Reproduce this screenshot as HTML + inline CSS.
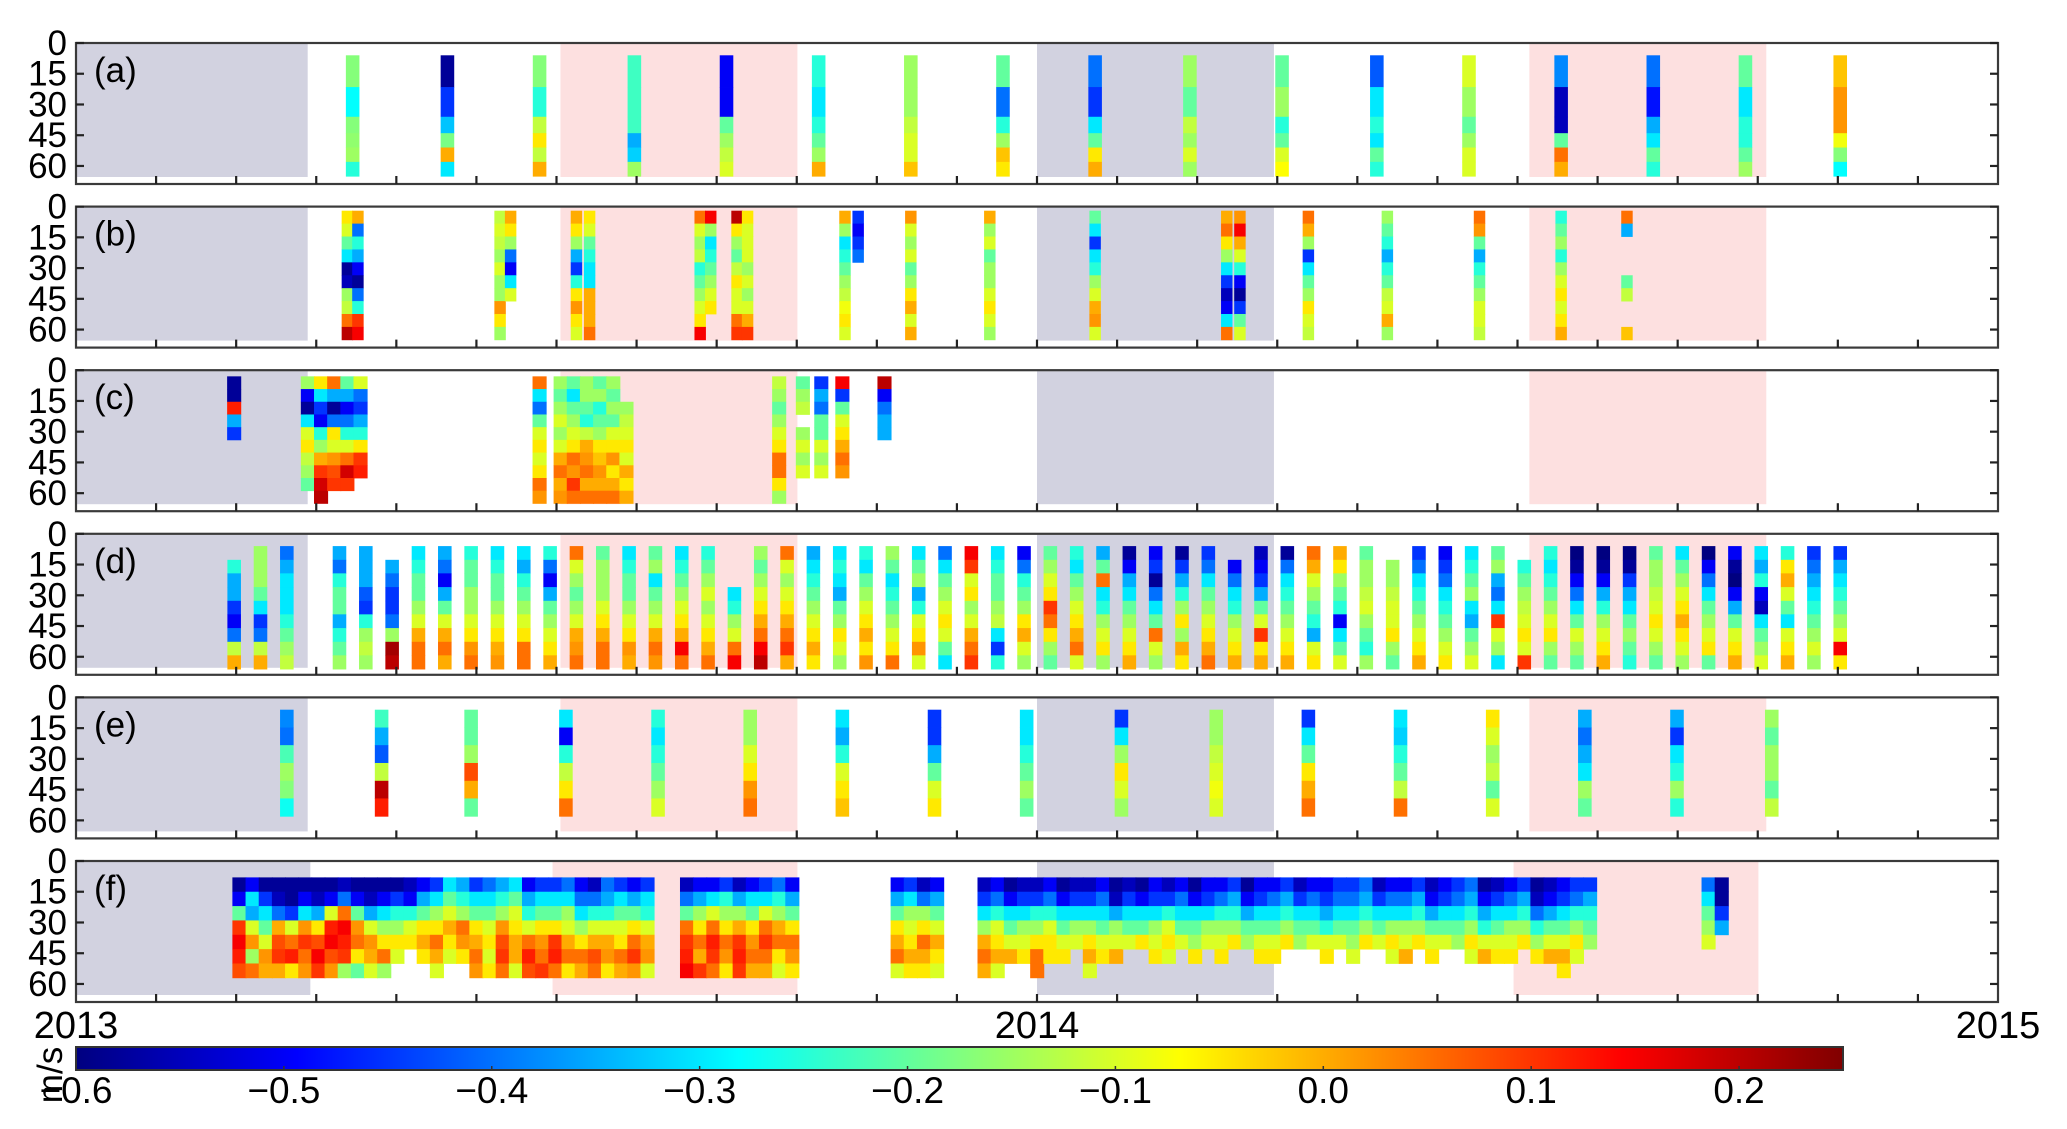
<!DOCTYPE html>
<html><head><meta charset="utf-8">
<style>
html,body{margin:0;padding:0;background:#fff;}
svg{display:block;font-family:"Liberation Sans","DejaVu Sans",sans-serif;}
</style></head>
<body>
<svg id="chart" width="2067" height="1129" viewBox="0 0 2067 1129" xmlns="http://www.w3.org/2000/svg"></svg>
<script>
// ---------- data ----------
const panelLabels = ["(a)","(b)","(c)","(d)","(e)","(f)"];
const depthTicks = [0,15,30,45,60];
const yearLabels = ["2013","2014","2015"];
const yearDays = [0,365,730];
const cbarTicks = [-0.6,-0.5,-0.4,-0.3,-0.2,-0.1,0.0,0.1,0.2];
const seasonGrey = [[0,88],[365,455]];
const seasonPink = [[184,274],[552,642]];
const seasonGreyF = [[0,89],[365,455]];
const seasonPinkF = [[181,274],[546,639]];

const aEdges = [6,21.5,36,44,51,58,65];
const aDays = [105,141,176,212,247,282,317,352,387,423,458,494,529,564,599,634,670];
const aVals = [
[-0.17,-0.28,-0.17,-0.16,-0.15,-0.25],[-0.58,-0.45,-0.33,-0.18,0.0,-0.3],[-0.17,-0.25,-0.12,-0.05,-0.12,0.0],
[-0.23,-0.23,-0.23,-0.35,-0.32,-0.15],[-0.5,-0.5,-0.2,-0.15,-0.12,-0.1],[-0.25,-0.3,-0.25,-0.2,-0.15,0.0],
[-0.15,-0.15,-0.12,-0.1,-0.1,-0.02],[-0.2,-0.4,-0.25,-0.15,-0.02,-0.05],[-0.4,-0.45,-0.3,-0.2,-0.05,0.0],
[-0.15,-0.2,-0.12,-0.15,-0.1,-0.15],[-0.2,-0.15,-0.25,-0.2,-0.1,-0.07],[-0.42,-0.3,-0.25,-0.3,-0.2,-0.25],
[-0.1,-0.15,-0.2,-0.15,-0.1,-0.1],[-0.38,-0.55,-0.55,-0.2,0.05,0.0],[-0.4,-0.48,-0.35,-0.3,-0.2,-0.25],
[-0.2,-0.3,-0.25,-0.25,-0.2,-0.15],[-0.02,0.02,0.02,-0.08,-0.17,-0.28]];

const bEdges = [2,8.3,14.6,20.9,27.2,33.5,39.8,46.1,52.4,58.7,65];
const bDays = [103,107,161,165,190,195,237,241,251,255,292,297,317,347,387,437,442,468,498,533,564,589];
const bVals = [
[-0.05,-0.1,-0.2,-0.3,-0.58,-0.55,-0.15,-0.12,0.05,0.2],[0.0,-0.4,-0.25,-0.35,-0.5,-0.58,-0.4,-0.25,0.1,0.15],
[-0.12,-0.1,-0.12,-0.15,-0.1,-0.15,-0.15,0.02,-0.05,-0.15],[0.0,-0.05,-0.15,-0.4,-0.5,-0.3,-0.1,null,null,null],
[0.0,-0.05,-0.15,-0.35,-0.45,-0.25,-0.05,0.02,-0.05,-0.1],[-0.05,-0.1,-0.2,-0.25,-0.3,-0.3,0.0,0.0,0.0,0.05],
[0.05,-0.1,-0.15,-0.12,-0.25,-0.2,-0.15,-0.1,-0.05,0.15],[0.15,-0.15,-0.3,-0.25,-0.2,-0.15,-0.1,-0.05,null,null],
[0.2,-0.05,-0.15,-0.2,-0.12,-0.05,-0.1,-0.1,0.05,0.1],[-0.05,-0.1,-0.1,-0.1,-0.15,-0.1,-0.15,-0.1,0.0,0.1],
[0.0,-0.15,-0.3,-0.25,-0.2,-0.15,-0.12,-0.08,-0.05,-0.1],[-0.45,-0.5,-0.45,-0.4,null,null,null,null,null,null],
[0.02,-0.1,-0.15,-0.1,-0.2,-0.15,-0.05,0.0,-0.1,0.0],[0.0,-0.15,-0.1,-0.2,-0.15,-0.15,-0.1,-0.05,-0.1,-0.15],
[-0.2,-0.3,-0.45,-0.3,-0.25,-0.15,-0.1,0.0,0.02,-0.1],[0.0,0.05,-0.05,-0.15,-0.3,-0.45,-0.55,-0.5,-0.3,0.05],
[0.02,0.15,0.0,-0.1,-0.25,-0.5,-0.58,-0.45,-0.2,-0.1],[0.05,0.0,-0.15,-0.45,-0.3,-0.2,-0.15,-0.05,-0.1,-0.12],
[-0.15,-0.2,-0.25,-0.35,-0.25,-0.2,-0.12,-0.1,0.0,-0.15],[0.05,0.02,-0.2,-0.35,-0.25,-0.2,-0.15,-0.1,-0.1,-0.12],
[-0.25,-0.2,-0.15,-0.25,-0.15,-0.1,-0.05,-0.1,-0.05,0.0],[0.05,-0.35,null,null,null,-0.2,-0.12,null,null,-0.02]];

const cEdges = [3,9.2,15.4,21.6,27.8,34,40.2,46.4,52.6,58.8,65];
const cDays = [60,88,93,98,103,108,176,184,189,194,199,204,209,267,276,283,291,307];
const cVals = [
[-0.58,-0.58,0.12,-0.35,-0.45,null,null,null,null,null],
[-0.15,-0.5,-0.58,-0.3,-0.1,-0.05,-0.12,-0.15,-0.2,null],[-0.05,-0.3,-0.45,-0.5,-0.25,-0.15,0.0,0.1,0.18,0.2],
[0.05,-0.35,-0.58,-0.4,-0.05,-0.1,0.02,0.08,0.1,null],[-0.2,-0.35,-0.5,-0.4,-0.25,-0.1,0.05,0.18,0.1,null],
[-0.1,-0.4,-0.45,-0.35,-0.25,-0.05,0.1,0.12,null,null],[0.05,-0.3,-0.4,-0.2,-0.1,-0.05,-0.1,-0.05,0.05,0.02],
[-0.15,-0.2,-0.15,-0.1,-0.15,-0.1,0.0,0.05,0.0,0.02],[-0.2,-0.3,-0.2,-0.15,-0.1,-0.05,0.05,0.02,0.1,0.05],
[-0.15,-0.15,-0.2,-0.25,-0.12,0.0,0.02,0.05,0.0,0.05],[-0.2,-0.15,-0.25,-0.2,-0.15,-0.05,-0.02,0.02,0.0,0.05],
[-0.15,-0.2,-0.15,-0.2,-0.1,-0.05,0.02,-0.05,0.0,0.05],[null,null,-0.15,-0.12,-0.1,-0.05,-0.1,0.0,-0.05,0.0],
[-0.12,-0.15,-0.2,-0.15,-0.1,-0.05,0.05,0.05,-0.05,-0.15],[-0.2,-0.15,-0.12,null,-0.15,-0.1,-0.15,-0.1,null,null],
[-0.45,-0.35,-0.4,-0.2,-0.2,-0.1,-0.15,-0.1,null,null],[0.15,-0.45,-0.2,-0.1,-0.05,0.0,0.05,0.02,null,null],
[0.2,-0.5,-0.4,-0.35,-0.35,null,null,null,null,null]];

const dEdges = [6,12.7,19.3,26,32.7,39.3,46,52.7,59.3,66];
const dDays = [60,70,80,100,110,120,130,140,150,160,170,180,190,200,210,220,230,240,250,260,270,280,290,300,310,320,330,340,350,360,370,380,390,400,410,420,430,440,450,460,470,480,490,500,510,520,530,540,550,560,570,580,590,600,610,620,630,640,650,660,670];
const dVals = [
[null,-0.25,-0.35,-0.35,-0.45,-0.5,-0.4,-0.12,0.0],[-0.15,-0.15,-0.15,-0.2,-0.3,-0.45,-0.4,-0.12,0.0],
[-0.4,-0.35,-0.3,-0.3,-0.3,-0.25,-0.2,-0.15,-0.12],[-0.35,-0.4,-0.25,-0.2,-0.2,-0.35,-0.25,-0.2,-0.15],
[-0.35,-0.35,-0.35,-0.42,-0.45,-0.25,-0.15,-0.12,-0.15],[null,-0.35,-0.4,-0.45,-0.45,-0.4,-0.15,0.22,0.2],
[-0.3,-0.25,-0.2,-0.2,-0.15,-0.1,0.0,0.05,0.05],[-0.35,-0.4,-0.5,-0.35,-0.2,-0.1,0.0,0.05,0.0],
[-0.25,-0.2,-0.2,-0.15,-0.15,-0.1,-0.05,0.02,0.05],[-0.3,-0.25,-0.2,-0.2,-0.15,-0.1,-0.05,0.0,0.02],
[-0.3,-0.35,-0.25,-0.2,-0.15,-0.1,-0.05,0.05,0.05],[-0.25,-0.4,-0.5,-0.35,-0.2,-0.15,-0.1,-0.05,0.0],
[0.05,-0.1,-0.15,-0.2,-0.15,-0.1,0.0,0.02,0.05],[-0.2,-0.15,-0.15,-0.15,-0.1,-0.05,0.0,0.05,0.05],
[-0.3,-0.25,-0.2,-0.2,-0.15,-0.1,-0.05,0.02,0.0],[-0.2,-0.15,-0.3,-0.2,-0.15,-0.1,0.0,0.05,0.02],
[-0.3,-0.25,-0.2,-0.15,-0.1,-0.05,0.0,0.15,0.05],[-0.25,-0.2,-0.15,-0.1,-0.15,-0.1,-0.05,0.0,0.05],
[null,null,null,-0.3,-0.25,-0.15,-0.1,0.05,0.15],[-0.15,-0.2,-0.15,-0.1,-0.05,0.0,0.05,0.15,0.2],
[0.05,-0.1,-0.15,-0.1,-0.05,0.0,0.05,0.1,0.0],[-0.35,-0.3,-0.25,-0.2,-0.15,-0.1,-0.05,0.0,-0.05],
[-0.3,-0.25,-0.3,-0.35,-0.2,-0.15,-0.05,-0.1,-0.15],[-0.25,-0.3,-0.2,-0.15,-0.1,-0.05,0.0,-0.05,0.02],
[-0.15,-0.2,-0.3,-0.25,-0.2,-0.15,-0.1,-0.05,0.05],[-0.3,-0.2,-0.15,-0.35,-0.25,-0.1,-0.05,0.02,-0.1],
[-0.4,-0.3,-0.2,-0.15,-0.1,-0.05,-0.1,-0.2,-0.3],[0.15,0.1,-0.1,-0.05,-0.15,-0.1,0.0,0.05,0.1],
[-0.3,-0.25,-0.2,-0.2,-0.15,-0.12,-0.3,-0.45,-0.25],[-0.5,-0.4,-0.25,-0.2,-0.15,-0.05,0.0,-0.1,-0.15],
[-0.2,-0.15,-0.1,-0.05,0.1,0.05,-0.05,-0.15,-0.2],[-0.25,-0.3,-0.2,-0.15,-0.1,-0.05,0.0,0.05,-0.1],
[-0.35,-0.2,0.05,-0.3,-0.25,-0.15,-0.1,-0.05,-0.15],[-0.58,-0.5,-0.35,-0.3,-0.2,-0.15,-0.1,-0.05,0.0],
[-0.5,-0.45,-0.58,-0.4,-0.3,-0.2,0.05,-0.1,-0.15],[-0.58,-0.45,-0.35,-0.25,-0.15,-0.05,-0.15,0.0,-0.05],
[-0.45,-0.4,-0.3,-0.2,-0.15,-0.1,-0.05,0.0,0.05],[null,-0.5,-0.4,-0.3,-0.25,-0.15,-0.1,-0.05,0.0],
[-0.55,-0.5,-0.45,-0.35,-0.2,-0.1,0.1,-0.05,0.0],[-0.58,-0.4,-0.3,-0.25,-0.2,-0.15,-0.1,-0.05,0.0],
[0.05,0.0,-0.1,-0.15,-0.2,-0.25,-0.35,-0.1,-0.05],[0.0,-0.05,-0.15,-0.2,-0.25,-0.5,-0.3,-0.2,-0.1],
[-0.2,-0.15,-0.15,-0.12,-0.1,-0.15,-0.2,-0.25,-0.15],[null,-0.15,-0.15,-0.12,-0.1,-0.1,-0.05,-0.15,-0.2],
[-0.45,-0.4,-0.3,-0.25,-0.2,-0.15,-0.1,-0.05,0.0],[-0.5,-0.45,-0.4,-0.3,-0.25,-0.2,-0.15,-0.1,-0.05],
[-0.3,-0.25,-0.2,-0.15,-0.3,-0.35,-0.2,-0.15,-0.1],[-0.2,-0.15,-0.35,-0.4,-0.3,0.1,-0.1,-0.15,-0.3],
[null,-0.25,-0.2,-0.15,-0.12,-0.1,-0.05,-0.1,0.1],[-0.25,-0.3,-0.25,-0.2,-0.15,-0.1,-0.05,-0.15,-0.2],
[-0.6,-0.58,-0.5,-0.4,-0.3,-0.2,-0.1,-0.15,-0.2],[-0.6,-0.58,-0.5,-0.35,-0.25,-0.15,-0.1,-0.05,0.0],
[-0.6,-0.58,-0.45,-0.35,-0.3,-0.2,-0.15,-0.2,-0.25],[-0.2,-0.15,-0.15,-0.12,-0.1,-0.05,-0.1,-0.15,-0.2],
[-0.3,-0.2,-0.15,-0.1,-0.05,0.0,-0.05,-0.1,-0.15],[-0.6,-0.5,-0.4,-0.3,-0.2,-0.15,-0.1,-0.05,-0.2],
[-0.5,-0.58,-0.6,-0.5,-0.35,-0.2,-0.1,-0.05,0.0],[-0.3,-0.35,-0.25,-0.5,-0.55,-0.3,-0.2,-0.15,-0.1],
[-0.25,-0.05,0.0,-0.1,-0.2,-0.3,-0.1,-0.05,0.0],[-0.45,-0.4,-0.35,-0.3,-0.25,-0.2,-0.15,-0.1,-0.15],
[-0.45,-0.35,-0.3,-0.25,-0.2,-0.15,-0.1,0.15,-0.05]];

const eEdges = [6,14.7,23.3,32,40.7,49.3,58];
const eDays = [80,116,150,186,221,256,291,326,361,397,433,468,503,538,573,608,644];
const eVals = [
[-0.38,-0.4,-0.22,-0.15,-0.17,-0.27],[-0.23,-0.35,-0.42,-0.12,0.2,0.12],[-0.2,-0.2,-0.15,0.08,0.0,-0.2],
[-0.3,-0.5,-0.25,-0.12,-0.05,0.05],[-0.25,-0.3,-0.25,-0.2,-0.15,-0.1],[-0.15,-0.15,-0.1,-0.05,0.02,0.05],
[-0.3,-0.35,-0.25,-0.1,-0.05,-0.02],[-0.45,-0.45,-0.35,-0.2,-0.1,-0.05],[-0.3,-0.3,-0.25,-0.2,-0.15,-0.2],
[-0.45,-0.3,-0.15,-0.05,-0.1,-0.15],[-0.15,-0.15,-0.12,-0.1,-0.08,-0.1],[-0.45,-0.3,-0.2,-0.05,0.0,0.05],
[-0.3,-0.32,-0.25,-0.2,-0.12,0.05],[-0.05,-0.1,-0.15,-0.12,-0.2,-0.1],[-0.35,-0.4,-0.35,-0.3,-0.15,-0.2],
[-0.35,-0.45,-0.3,-0.25,-0.15,-0.25],[-0.15,-0.2,-0.15,-0.15,-0.2,-0.12]];

const fEdges = [8,15,22,29,36,43,50,57];
const fDays = [62,67,72,77,82,87,92,97,102,107,112,117,122,127,132,137,142,147,152,157,162,167,172,177,182,187,192,197,202,207,212,217,232,237,242,247,252,257,262,267,272,312,317,322,327,345,350,355,360,365,370,375,380,385,390,395,400,405,410,415,420,425,430,435,440,445,450,455,460,465,470,475,480,485,490,495,500,505,510,515,520,525,530,535,540,545,550,555,560,565,570,575,620,625];
const fVals = [
[-0.58,-0.5,-0.2,0.1,0.15,0.12,0.08],[-0.5,-0.3,-0.35,-0.1,0.02,-0.15,0.05],[-0.58,-0.45,-0.3,-0.2,-0.1,0.02,0.0],[-0.58,-0.55,-0.4,0.0,0.08,0.1,0.0],
[-0.58,-0.58,-0.45,-0.1,0.05,0.12,-0.05],[-0.58,-0.5,-0.3,0.02,0.1,0.05,0.02],[-0.58,-0.55,-0.35,-0.05,0.08,0.15,0.1],[-0.58,-0.5,-0.1,0.12,0.15,0.08,0.02],
[-0.55,-0.4,0.05,0.15,0.12,0.1,-0.15],[-0.58,-0.5,-0.2,0.02,0.05,-0.05,-0.2],[-0.58,-0.55,-0.35,-0.1,0.02,0.0,-0.1],[-0.58,-0.5,-0.3,-0.15,-0.05,0.05,-0.15],
[-0.58,-0.45,-0.25,-0.15,-0.05,-0.1,null],[-0.55,-0.5,-0.25,-0.1,-0.05,null,null],[-0.5,-0.35,-0.2,-0.05,0.0,-0.05,null],[-0.45,-0.3,-0.15,-0.05,0.05,0.0,-0.1],
[-0.3,-0.2,-0.1,0.0,-0.05,-0.1,null],[-0.35,-0.25,-0.15,0.05,0.02,-0.05,null],[-0.45,-0.3,-0.2,-0.05,0.0,0.05,0.02],[-0.4,-0.3,-0.2,-0.1,-0.05,-0.1,-0.05],
[-0.35,-0.25,-0.15,0.02,0.08,0.1,0.05],[-0.3,-0.2,-0.1,-0.05,0.0,0.0,-0.1],[-0.5,-0.35,-0.25,-0.1,0.05,0.12,0.08],[-0.45,-0.3,-0.2,-0.05,0.02,0.05,0.1],
[-0.45,-0.3,-0.2,-0.05,0.1,0.12,0.05],[-0.4,-0.3,-0.15,-0.1,0.0,0.05,-0.05],[-0.5,-0.4,-0.3,-0.15,-0.05,0.05,0.0],[-0.55,-0.4,-0.25,-0.1,0.0,0.08,0.05],
[-0.4,-0.35,-0.25,-0.1,0.0,0.02,-0.05],[-0.45,-0.3,-0.2,-0.1,-0.05,0.05,0.0],[-0.5,-0.35,-0.2,-0.05,0.05,0.1,0.02],[-0.45,-0.3,-0.25,-0.1,0.0,0.02,-0.1],
[-0.55,-0.4,-0.2,0.05,0.1,0.12,0.15],[-0.5,-0.35,-0.15,-0.05,0.05,0.0,0.1],[-0.5,-0.3,-0.1,0.05,0.12,0.1,0.05],[-0.45,-0.25,-0.15,-0.05,0.05,0.02,-0.05],
[-0.55,-0.35,-0.15,0.0,0.1,0.12,0.1],[-0.5,-0.3,-0.2,-0.05,0.02,0.05,0.0],[-0.45,-0.3,-0.1,0.05,0.1,0.05,0.0],[-0.4,-0.25,-0.15,0.0,0.05,-0.05,-0.1],
[-0.5,-0.35,-0.2,-0.05,0.05,0.02,-0.05],
[-0.5,-0.35,-0.2,-0.05,0.0,0.05,-0.1],[-0.45,-0.3,-0.15,-0.1,-0.05,0.0,-0.05],[-0.55,-0.4,-0.15,-0.05,0.05,0.0,-0.05],[-0.5,-0.35,-0.2,-0.1,0.0,-0.05,-0.1],
[-0.55,-0.45,-0.3,-0.15,0.0,0.05,0.0],[-0.5,-0.4,-0.25,-0.1,-0.05,0.0,-0.1],[-0.58,-0.5,-0.3,-0.2,-0.1,0.0,null],[-0.55,-0.45,-0.3,-0.15,-0.1,-0.05,null],
[-0.55,-0.45,-0.25,-0.15,-0.05,0.05,0.05],[-0.5,-0.4,-0.25,-0.1,-0.05,-0.05,null],[-0.58,-0.5,-0.3,-0.2,-0.1,-0.05,null],[-0.55,-0.45,-0.3,-0.15,-0.1,null,null],
[-0.55,-0.45,-0.3,-0.15,-0.05,0.0,-0.1],[-0.5,-0.4,-0.3,-0.2,-0.1,-0.05,null],[-0.58,-0.55,-0.35,-0.15,-0.1,0.0,null],[-0.55,-0.45,-0.3,-0.2,-0.1,null,null],
[-0.58,-0.5,-0.3,-0.2,-0.05,null,null],[-0.5,-0.45,-0.3,-0.15,-0.1,-0.05,null],[-0.55,-0.45,-0.25,-0.1,-0.05,-0.1,null],[-0.5,-0.4,-0.3,-0.2,-0.1,null,null],
[-0.58,-0.5,-0.3,-0.2,-0.15,-0.05,null],[-0.5,-0.45,-0.3,-0.15,-0.1,null,null],[-0.5,-0.4,-0.25,-0.15,-0.1,-0.05,null],[-0.45,-0.35,-0.25,-0.15,-0.05,null,null],
[-0.58,-0.5,-0.35,-0.2,-0.15,null,null],[-0.5,-0.45,-0.3,-0.2,-0.1,-0.05,null],[-0.5,-0.4,-0.3,-0.2,-0.1,-0.05,null],[-0.45,-0.35,-0.25,-0.15,-0.05,null,null],
[-0.55,-0.45,-0.3,-0.2,-0.15,null,null],[-0.5,-0.4,-0.3,-0.2,-0.1,null,null],[-0.5,-0.45,-0.35,-0.25,-0.1,-0.05,null],[-0.45,-0.4,-0.3,-0.2,-0.1,null,null],
[-0.45,-0.4,-0.3,-0.2,-0.15,-0.1,null],[-0.4,-0.35,-0.25,-0.15,-0.05,null,null],[-0.55,-0.45,-0.3,-0.2,-0.1,null,null],[-0.5,-0.4,-0.3,-0.15,-0.05,-0.1,null],
[-0.5,-0.4,-0.3,-0.15,-0.1,0.0,null],[-0.45,-0.35,-0.25,-0.15,-0.05,null,null],[-0.55,-0.5,-0.35,-0.2,-0.1,-0.05,null],[-0.5,-0.45,-0.3,-0.2,-0.1,null,null],
[-0.45,-0.4,-0.3,-0.2,-0.15,null,null],[-0.4,-0.35,-0.25,-0.15,-0.05,-0.1,null],[-0.58,-0.5,-0.35,-0.25,-0.1,0.0,null],[-0.55,-0.45,-0.3,-0.2,-0.1,-0.05,null],
[-0.5,-0.4,-0.3,-0.15,-0.1,-0.05,null],[-0.45,-0.35,-0.25,-0.15,-0.05,null,null],[-0.58,-0.55,-0.4,-0.25,-0.15,-0.05,null],[-0.55,-0.5,-0.35,-0.2,-0.1,0.0,null],
[-0.5,-0.45,-0.3,-0.2,-0.1,0.0,-0.05],[-0.45,-0.4,-0.25,-0.15,-0.05,-0.1,null],[-0.45,-0.35,-0.25,-0.2,-0.15,null,null],[-0.4,-0.3,-0.2,-0.15,-0.1,null,null],
[-0.58,-0.58,-0.45,-0.35,null,null,null],[-0.55,-0.55,-0.45,-0.35,-0.35,null,null]];

// ---------- layout ----------
const NS = "http://www.w3.org/2000/svg";
const svg = document.getElementById("chart");
const X0 = 76, X1 = 1998, TOTAL_DAYS = 730;
const PANEL_TOP0 = 43, PANEL_STEP = 163.6, PANEL_H = 141, DEPTH_MAX = 68.8;
const VMIN = -0.6, VMAX = 0.25;
const CB_X0 = 76, CB_X1 = 1843, CB_Y = 1047, CB_H = 23;

function xDay(d){ return X0 + d * (X1 - X0) / TOTAL_DAYS; }
function yDepth(top, m){ return top + m * PANEL_H / DEPTH_MAX; }
function cbX(v){ return CB_X0 + (v - VMIN) / (VMAX - VMIN) * (CB_X1 - CB_X0); }
function clip(v){ return Math.max(0, Math.min(1, v)); }
function jet(v){
  const t = clip((v - VMIN) / (VMAX - VMIN));
  const r = clip(1.5 - Math.abs(4*t - 3)), g = clip(1.5 - Math.abs(4*t - 2)), b = clip(1.5 - Math.abs(4*t - 1));
  return "rgb(" + Math.round(r*255) + "," + Math.round(g*255) + "," + Math.round(b*255) + ")";
}
function el(tag, attrs, parent){
  const e = document.createElementNS(NS, tag);
  for (const k in attrs) e.setAttribute(k, attrs[k]);
  (parent || svg).appendChild(e);
  return e;
}

const panels = [
  {days:aDays, vals:aVals, edges:aEdges, w:5, grey:seasonGrey, pink:seasonPink},
  {days:bDays, vals:bVals, edges:bEdges, w:4.2, grey:seasonGrey, pink:seasonPink},
  {days:cDays, vals:cVals, edges:cEdges, w:5.2, grey:seasonGrey, pink:seasonPink},
  {days:dDays, vals:dVals, edges:dEdges, w:5, grey:seasonGrey, pink:seasonPink},
  {days:eDays, vals:eVals, edges:eEdges, w:5, grey:seasonGrey, pink:seasonPink},
  {days:fDays, vals:fVals, edges:fEdges, w:5.2, grey:seasonGreyF, pink:seasonPinkF}
];

panels.forEach(function(p, i){
  const top = PANEL_TOP0 + i * PANEL_STEP, bot = top + PANEL_H;
  const g = el("g", {});
  
  
  p.grey.forEach(function(s){
    const r = el("rect", {x:xDay(s[0]), y:top+1, width:xDay(s[1])-xDay(s[0]), height:PANEL_H-8, fill:"#d2d2e0"}, g);
    
    
  });
  p.pink.forEach(function(s){
    const r = el("rect", {x:xDay(s[0]), y:top+1, width:xDay(s[1])-xDay(s[0]), height:PANEL_H-8, fill:"#fde0e0"}, g);
    
    
  });
  p.days.forEach(function(d, ci){
    const col = p.vals[ci];
    col.forEach(function(v, bi){
      if (v === null) return;
      const y0 = yDepth(top, p.edges[bi]), y1 = yDepth(top, p.edges[bi+1]);
      const r = el("rect", {x:xDay(d - p.w/2), y:y0, width:xDay(p.w) - X0 + 0.4, height:y1 - y0 + 0.4, fill:jet(v)}, g);
      
      
    });
  });
  const fr = el("rect", {x:X0, y:top, width:X1-X0, height:PANEL_H, fill:"none", stroke:"#3a3a3a", "stroke-width":2.2}, g);
  
  
  for (let m = 1; m < 24; m++){
    const x = X0 + m * (X1 - X0) / 24;
    const t = el("line", {x1:x, x2:x, y1:bot, y2:bot-8, stroke:"#222", "stroke-width":2.2}, g);
    
    
  }
  depthTicks.forEach(function(dv){
    const y = yDepth(top, dv);
    const t1 = el("line", {x1:X0, x2:X0+8, y1:y, y2:y, stroke:"#222", "stroke-width":2.2}, g);
    
    
    const t2 = el("line", {x1:X1, x2:X1-8, y1:y, y2:y, stroke:"#222", "stroke-width":2.2}, g);
    
    
    const tx = el("text", {x:67, y:y+12, "text-anchor":"end", "font-size":35, fill:"#000"}, g);
    tx.textContent = String(dv);
    
    
  });
  const lb = el("text", {x:94, y:top+39, "font-size":35, fill:"#000"}, g);
  lb.textContent = panelLabels[i];
  
  
});

yearLabels.forEach(function(t, i){
  const tx = el("text", {x:xDay(yearDays[i]), y:1038, "text-anchor":"middle", "font-size":38, fill:"#000"});
  tx.textContent = t;
  
  
});

const defs = el("defs", {});
const grad = el("linearGradient", {id:"jetgrad", x1:"0", x2:"1", y1:"0", y2:"0"}, defs);
for (let k = 0; k <= 40; k++){
  const v = VMIN + (VMAX - VMIN) * k / 40;
  el("stop", {offset:(k/40), "stop-color":jet(v)}, grad);
}
const cb = el("rect", {x:CB_X0, y:CB_Y, width:CB_X1-CB_X0, height:CB_H, fill:"url(#jetgrad)", stroke:"#333", "stroke-width":2});


cbarTicks.forEach(function(v){
  const x = cbX(v);
  const t = el("line", {x1:x, x2:x, y1:CB_Y+CB_H, y2:CB_Y+CB_H-4, stroke:"#333", "stroke-width":1.5});
  
  
  const tx = el("text", {x:x, y:1103, "text-anchor":"middle", "font-size":37, fill:"#000"});
  tx.textContent = (v < 0 ? "\u2212" : "") + Math.abs(v).toFixed(1);
  
  
});
const unit = el("text", {x:0, y:0, "text-anchor":"middle", "font-size":35, fill:"#000", transform:"translate(62,1075) rotate(-90)"});
unit.textContent = "m/s";


</script>
</body></html>
